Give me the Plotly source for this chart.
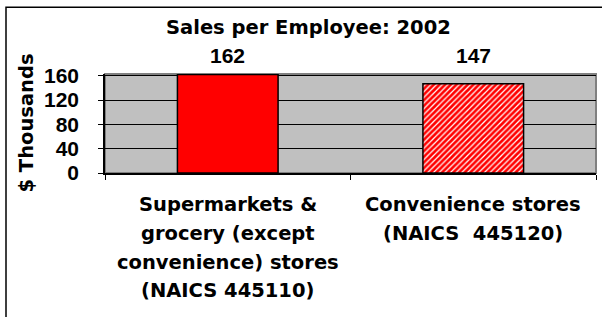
import plotly.graph_objects as go

categories = [
    "Supermarkets &<br>grocery (except<br>convenience) stores<br>(NAICS 445110)",
    "Convenience stores<br>(NAICS  445120)",
]
values = [162, 147]
value_labels = ["162", "147"]
y_ticks = [0, 40, 80, 120, 160]
title_text = "Sales per Employee: 2002"
y_title = "$ Thousands"

W, H = 602, 317
L, R, T, B = 105, 6, 74, 143.5
pw, ph = W - L - R, H - T - B
NUMFONT = "Liberation Sans, Arial, sans-serif"
TXTFONT = "DejaVu Sans, Arial, sans-serif"

def px_x(px):
    return (px - L) / pw

def px_y(py):
    return (H - B - py) / ph

fig = go.Figure()
fig.add_trace(go.Bar(
    x=categories[:1], y=values[:1],
    marker=dict(color="#FF0000", line=dict(color="black", width=1.5)),
    width=0.41, showlegend=False, hoverinfo="skip",
))
fig.add_trace(go.Bar(
    x=categories[1:], y=values[1:],
    marker=dict(color="white", line=dict(color="black", width=1.5),
                pattern=dict(shape="/", fgcolor="#FF0000", bgcolor="white",
                             size=4, solidity=0.7, fillmode="replace")),
    width=0.41, showlegend=False, hoverinfo="skip",
))

annotations = [
    dict(text="<b>%s</b>" % title_text, x=px_x(308), y=px_y(27), xref="paper", yref="paper",
         showarrow=False, font=dict(size=19.5, family=TXTFONT, color="black"),
         xanchor="center", yanchor="middle"),
    dict(text="<b>%s</b>" % y_title, x=px_x(26), y=0.5, xref="paper", yref="paper",
         showarrow=False, textangle=-90, font=dict(size=19.5, family=TXTFONT, color="black"),
         xanchor="center", yanchor="middle"),
]
for cat, lab in zip(categories, value_labels):
    annotations.append(dict(text="<b>%s</b>" % lab, x=cat, y=px_y(55), xref="x", yref="paper",
                            showarrow=False, font=dict(size=21, family=NUMFONT, color="black"),
                            xanchor="center", yanchor="middle"))
# category labels, one annotation per line (Excel-like line spacing)
for cat in categories:
    for j, line in enumerate(cat.split("<br>")):
        annotations.append(dict(text="<b>%s</b>" % line, x=cat, y=px_y(205 + 29 * j),
                                xref="x", yref="paper", showarrow=False,
                                font=dict(size=19.5, family=TXTFONT, color="black"),
                                xanchor="center", yanchor="middle"))

fig.update_layout(
    width=W, height=H,
    margin=dict(l=L, r=R, t=T, b=B, pad=0, autoexpand=False),
    paper_bgcolor="white", plot_bgcolor="#C0C0C0",
    barmode="overlay",
    font=dict(family=TXTFONT, size=19.5, color="black"),
    annotations=annotations,
    shapes=[
        dict(type="rect", xref="paper", yref="paper", x0=0, x1=1, y0=0, y1=1,
             line=dict(color="#808080", width=2), layer="below"),
        dict(type="rect", xref="paper", yref="paper", x0=px_x(6), x1=px_x(640), y0=px_y(7), y1=px_y(360),
             line=dict(color="black", width=1.5), layer="above"),
    ],
)
fig.update_yaxes(
    range=[0, 163], tickvals=y_ticks, ticktext=["<b>%d</b>" % v for v in y_ticks],
    showgrid=True, gridcolor="black", gridwidth=1, zeroline=False,
    showline=True, linecolor="black", linewidth=1.5,
    ticks="outside", ticklen=5, tickcolor="black", tickwidth=1,
    tickfont=dict(size=21, family=NUMFONT), ticklabelstandoff=15, automargin=False,
)
fig.update_xaxes(
    tickvals=categories, showticklabels=False,
    tickson="boundaries", ticks="outside", ticklen=5, tickcolor="black", tickwidth=1,
    showline=True, linecolor="black", linewidth=1.5, showgrid=False, automargin=False,
)
fig.write_html(
    "out.html",
    config={"displayModeBar": False},
    post_script="document.body.style.margin='0';document.body.style.overflow='hidden';",
)
